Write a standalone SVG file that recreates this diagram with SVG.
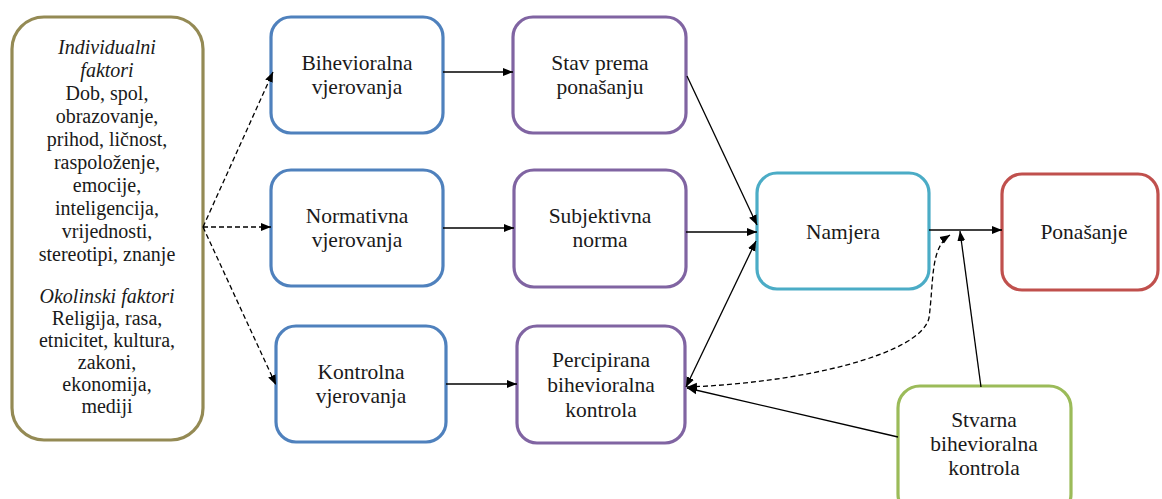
<svg xmlns="http://www.w3.org/2000/svg" width="1162" height="499" viewBox="0 0 1162 499">
<style>
.box{fill:#fff;stroke-width:3.2}
.t{font-family:'Liberation Serif','Times New Roman','DejaVu Serif',serif;font-size:21.5px;fill:#1a1a1a;text-anchor:middle}
.s{font-size:20px}
.i{font-style:italic}
.c{fill:none;stroke:#000;stroke-width:1.3}
.d{stroke-dasharray:5,3}
</style>
<defs>
<marker id="a" viewBox="0 0 10 10" refX="10" refY="5" markerWidth="10" markerHeight="10" markerUnits="userSpaceOnUse" orient="auto-start-reverse">
<path d="M0,1 L10,5 L0,9 Z" fill="#000"/>
</marker>
</defs>
<rect width="1162" height="499" fill="#fff"/>
<g id="factors">
<rect class="box" x="12" y="17" width="191" height="423" rx="32" stroke="#948A54"/>
<text class="t s i" x="107" y="54">Individualni</text>
<text class="t s i" x="107" y="77">faktori</text>
<text class="t s" x="107" y="100">Dob, spol,</text>
<text class="t s" x="107" y="123">obrazovanje,</text>
<text class="t s" x="107" y="146">prihod, ličnost,</text>
<text class="t s" x="107" y="169">raspoloženje,</text>
<text class="t s" x="107" y="192">emocije,</text>
<text class="t s" x="107" y="215">inteligencija,</text>
<text class="t s" x="107" y="238">vrijednosti,</text>
<text class="t s" x="107" y="261">stereotipi, znanje</text>
<text class="t s i" x="107" y="303">Okolinski faktori</text>
<text class="t s" x="107" y="325">Religija, rasa,</text>
<text class="t s" x="107" y="347">etnicitet, kultura,</text>
<text class="t s" x="107" y="369">zakoni,</text>
<text class="t s" x="107" y="391">ekonomija,</text>
<text class="t s" x="107" y="413">mediji</text>
</g>
<g id="behavioral-beliefs">
<rect class="box" x="271" y="17" width="172" height="116" rx="20" stroke="#4F81BD"/>
<text class="t" x="357" y="70">Bihevioralna</text>
<text class="t" x="357" y="94">vjerovanja</text>
</g>
<g id="normative-beliefs">
<rect class="box" x="271" y="170" width="172" height="116" rx="20" stroke="#4F81BD"/>
<text class="t" x="357" y="223">Normativna</text>
<text class="t" x="357" y="247">vjerovanja</text>
</g>
<g id="control-beliefs">
<rect class="box" x="276" y="326" width="170" height="116" rx="20" stroke="#4F81BD"/>
<text class="t" x="361" y="379">Kontrolna</text>
<text class="t" x="361" y="403">vjerovanja</text>
</g>
<g id="attitude">
<rect class="box" x="513" y="17" width="173" height="116" rx="20" stroke="#8064A2"/>
<text class="t" x="600" y="70">Stav prema</text>
<text class="t" x="600" y="94">ponašanju</text>
</g>
<g id="subjective-norm">
<rect class="box" x="514" y="170" width="172" height="117" rx="20" stroke="#8064A2"/>
<text class="t" x="600" y="223">Subjektivna</text>
<text class="t" x="600" y="247">norma</text>
</g>
<g id="perceived-control">
<rect class="box" x="517" y="326" width="168" height="117" rx="20" stroke="#8064A2"/>
<text class="t" x="601" y="367">Percipirana</text>
<text class="t" x="601" y="392">bihevioralna</text>
<text class="t" x="601" y="417">kontrola</text>
</g>
<g id="intention">
<rect class="box" x="757" y="173" width="172" height="116" rx="20" stroke="#4BACC6"/>
<text class="t" x="843" y="239">Namjera</text>
</g>
<g id="behavior">
<rect class="box" x="1002" y="174" width="156" height="116" rx="20" stroke="#C0504D"/>
<text class="t" x="1084" y="239">Ponašanje</text>
</g>
<g id="actual-control">
<rect class="box" x="898" y="386" width="173" height="130" rx="22" stroke="#9BBB59"/>
<text class="t" x="984" y="427">Stvarna</text>
<text class="t" x="984" y="451">bihevioralna</text>
<text class="t" x="984" y="475">kontrola</text>
</g>
<g id="connectors">
<line class="c d" x1="203" y1="227" x2="273" y2="72" marker-end="url(#a)"/>
<line class="c d" x1="203" y1="227" x2="271" y2="227" marker-end="url(#a)"/>
<line class="c d" x1="203" y1="227" x2="276" y2="385" marker-end="url(#a)"/>
<line class="c" x1="443" y1="72" x2="513" y2="72" marker-end="url(#a)"/>
<line class="c" x1="443" y1="228" x2="514" y2="228" marker-end="url(#a)"/>
<line class="c" x1="446" y1="384" x2="517" y2="384" marker-end="url(#a)"/>
<line class="c" x1="687" y1="76" x2="757" y2="225" marker-end="url(#a)"/>
<line class="c" x1="686" y1="232" x2="757" y2="232" marker-end="url(#a)"/>
<line class="c" x1="686" y1="387" x2="756" y2="241" marker-start="url(#a)" marker-end="url(#a)"/>
<line class="c" x1="929" y1="230" x2="1002" y2="230" marker-end="url(#a)"/>
<line class="c" x1="981" y1="387" x2="960" y2="231" marker-end="url(#a)"/>
<path class="c d" d="M687,387 C800,383 920,355 929,318 C934,280 930,248 950,235" marker-start="url(#a)" marker-end="url(#a)"/>
<line class="c" x1="898" y1="437" x2="687" y2="388" marker-end="url(#a)"/>
</g>
</svg>
